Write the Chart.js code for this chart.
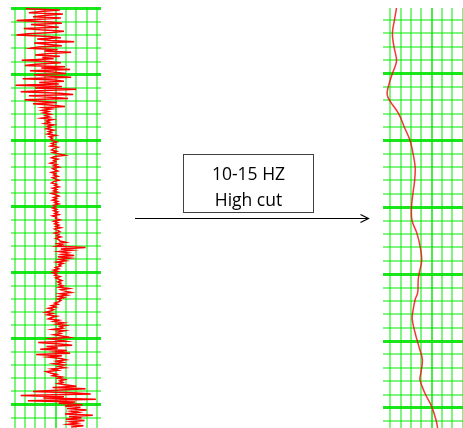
<!DOCTYPE html>
<html>
<head>
<meta charset="utf-8">
<script src="https://cdn.jsdelivr.net/npm/chart.js@4.4.0/dist/chart.umd.min.js"></script>
<style>
  html, body { margin: 0; padding: 0; background: #fff; }
  body { width: 463px; height: 428px; position: relative; overflow: hidden; }
  canvas { position: absolute; }
  #rawTrace { left: 11px; top: 7px; }
  #filteredTrace { left: 383px; top: 8px; }
  #arrow { position: absolute; left: 0; top: 0; }
  .filter-box {
    position: absolute; left: 183px; top: 154px;
    width: 131px; height: 59px; box-sizing: border-box;
    border: 1px solid #404040; padding-top: 5px;
    font-family: "Open Sans", sans-serif; font-size: 17.5px; line-height: 26px;
    text-align: center; color: #000;
  }
</style>
</head>
<body>
<canvas id="rawTrace" width="90" height="421"></canvas>
<canvas id="filteredTrace" width="80" height="420"></canvas>

<svg id="arrow" width="463" height="428">
  <line x1="135" y1="218.5" x2="368" y2="218.5" stroke="#000" stroke-width="1.2"/>
  <polyline points="360.5,214.5 368.5,218.5 360.5,222.5" fill="none" stroke="#000" stroke-width="1.2"/>
</svg>
<div class="filter-box">10-15 HZ<br>High cut</div>

<script>
// raw trace: one amplitude per sample, samples every 0.1 grid rows
const rawStep = 0.1;
const rawAmplitude = [
  // noisy top
  -2.9, 0.4, -1.2, -2.6, 0.7, -0.8, -2.2, 0.5, -1.6,
  -3.8, -0.5, 0.6, -2.4, -1.0, 0.3, -3.1, -1.5, 0.8, -0.3, -2.7, -3.8, -0.6, 0.5, -1.8,
  -0.4, 1.8, -2.1, -0.9, 0.6, -1.7, -2.4, 0.2, -1.1, 1.5, -0.6, -2.0, 0.4, -1.3, -0.2,
  -3.3, -0.7, 0.5, -1.9,
  -3.0, 0.9, -1.4, 1.4, -2.5, -0.3, 1.0, -2.1, -0.8, 1.5, -3.2, -0.1, 0.8, -1.6, 0.3,
  -3.9, 0.6, -2.0, 2.0, -1.0, -3.4, 0.4, 1.7, -2.6, -0.5, 1.2, -3.0,
  -1.8, 0.1, -2.2, -0.6, 0.9, -1.2, -0.4,
  // quiet middle
  -1.3, -0.7, -1.2, -0.5, -1.0, -0.6, -1.4, -0.3, -0.9, -0.6, -1.1, -0.2, -0.8, -0.5, -0.9,
  -0.2, -0.7, -0.4, -0.8, 0.0, -0.6, -0.3, -0.5,
  -0.3, 0.1, -0.4, -0.1, -0.5, 0.2, -0.2, -0.4, 0.1, -0.3, 0.3, 0.9, -0.1, -0.4, 0.2, -0.2,
  0.0, -0.5, 0.1, -0.2, 0.3, -0.3, -0.1, 0.2, -0.4, 0.0, -0.2,
  0.2, -0.3, 0.0, 0.3, -0.2, -0.4, 0.1, -0.1, 0.3, -0.3, 0.1, -0.2, 0.2, -0.4, 0.0, 0.3,
  -0.2, 0.1, -0.3, 0.2, -0.1, 0.3, -0.2, 0.0, -0.3, 0.1,
  -0.2, 0.2, -0.1, 0.3, -0.3, 0.1, 0.0, 0.4, -0.2, 0.2, -0.1, 0.3, 0.0, 0.5, -0.1, 0.2,
  0.4, -0.1, 0.3, 0.1, 0.5, 0.0, 0.3,
  // burst
  0.4, 1.0, 0.2, 0.7, 0.1, 2.9, 0.5, 1.6, 0.3, 1.2, 0.6, 1.8, 0.2, 1.4, 0.4, 1.0, 0.1, 0.7, 0.3, 0.5,
  0.0, 0.3, -0.2, 0.2, -0.3, 0.1, -0.1, 0.4, 0.0, 0.3, 0.6, 0.2, 0.5, 0.3,
  0.7, 0.3, 1.3, 0.5, 0.9, 1.5, 0.4, 1.1, 0.3, 0.8, 0.2, 0.5,
  0.3, -0.1, 0.2, -0.4, 0.0, -0.7, -0.2, -0.5, -1.0, -0.3, -0.8, 0.1, -0.4,
  -0.7, 0.3, -0.2, 0.8, 0.1, 1.0, 0.4, 0.7, -0.3, 0.9, 0.2, 0.5, -0.2,
  0.6, 1.3, -0.5, 0.2, 1.0, -1.7, 0.4, 1.6, -0.9, 0.2, -1.5, 1.1, 0.0, 1.4, -1.9, 0.6, -0.7,
  0.5, 1.0, 0.1, 0.7, -0.2, 0.8, 0.3, 0.9, -0.4, 0.2, -0.9, -0.5, 0.1, -0.3, 0.6, 0.2,
  0.9, 0.4, 0.7, 0.2, 0.9,
  // noisy bottom
  2.0, -0.3, 2.9, 0.5, -2.2, 1.6, 3.4, -3.4, 0.8, -1.2, 3.9, -2.7, 1.9, 0.3, 2.6,
  0.9, 2.4, 1.1, 3.0, 1.5, 2.2, 0.9, 3.6, 1.3, 2.5, 1.0, 2.8, 1.4, 2.1, 1.2, 2.7, 1.5
];

// filtered trace after the high cut
const filteredDepth = [
  0.1, 1.0, 2.0, 3.0, 4.0, 4.5, 5.0, 6.0, 6.6, 7.1, 8.0, 9.1, 10.0,
  11.0, 12.0, 13.0, 13.9, 15.0, 16.0, 16.9, 18.0, 19.0, 19.9, 20.4,
  21.4, 21.9, 22.9, 23.4, 24.4, 25.5, 26.4, 27.4, 27.9, 28.9, 29.9, 30.9, 31.5
];
const filteredAmplitude = [
  -3.4, -3.6, -3.8, -3.65, -3.4, -3.55, -3.8, -4.2, -4.3, -4.0, -3.2, -2.6, -2.1,
  -1.8, -1.6, -1.65, -1.8, -1.95, -1.9, -1.45, -1.1, -0.97, -1.2, -1.3,
  -1.36, -1.6, -1.84, -1.88, -1.6, -1.2, -0.9, -1.05, -1.13, -0.65, 0.0, 0.42, 0.58
];

function gridStyle(major, width, alpha) {
  return {
    drawTicks: false,
    color: ctx => major(ctx.tick.value) ? `rgba(0, 228, 0, ${alpha})` : 'rgba(0, 235, 0, 0.5)',
    lineWidth: ctx => major(ctx.tick.value) ? width : 2
  };
}

function wholeTicks(scale) {
  const ticks = [];
  for (let v = Math.ceil(scale.min); v <= Math.floor(scale.max); v++) ticks.push({ value: v });
  scale.ticks = ticks;
}

function traceChart(canvasId, points, xMin, xMax, yMin, yMax, lineColor, lineWidth, tension) {
  return new Chart(document.getElementById(canvasId), {
    type: 'scatter',
    data: {
      datasets: [{
        data: points,
        showLine: true,
        borderColor: lineColor,
        borderWidth: lineWidth,
        pointRadius: 0,
        tension: tension
      }]
    },
    options: {
      responsive: false,
      animation: false,
      layout: { padding: 0, autoPadding: false },
      plugins: { legend: { display: false }, tooltip: { enabled: false } },
      scales: {
        x: {
          type: 'linear', min: xMin, max: xMax,
          ticks: { display: false },
          afterBuildTicks: wholeTicks,
          grid: gridStyle(v => v === 0, 2, 0.72),
          border: { display: false }
        },
        y: {
          type: 'linear', min: yMin, max: yMax, reverse: true,
          ticks: { display: false },
          afterBuildTicks: wholeTicks,
          grid: gridStyle(v => v % 5 === 0, 3, 0.9),
          border: { display: false }
        }
      }
    }
  });
}

const rawPoints = rawAmplitude.map((a, i) => ({ x: a, y: i * rawStep }));
const filteredPoints = filteredAmplitude.map((a, i) => ({ x: a, y: filteredDepth[i] }));

traceChart('rawTrace', rawPoints, -4.34, 4.4, -0.13, 31.77, '#ff0000', 1.5, 0);
traceChart('filteredTrace', filteredPoints, -4.71, 3.03, 0.11, 31.5, 'rgba(240, 20, 20, 0.85)', 1.5, 0.4);
</script>
</body>
</html>
